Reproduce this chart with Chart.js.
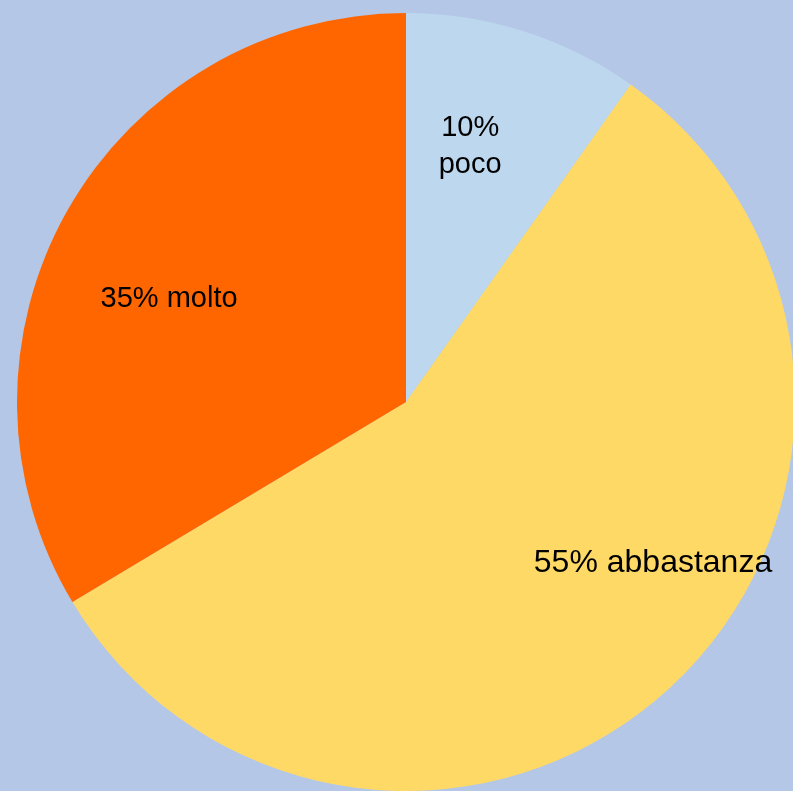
<!DOCTYPE html>
<html>
<head>
<meta charset="utf-8">
<script src="https://cdn.jsdelivr.net/npm/chart.js@4"></script>
<style>
  html, body { margin: 0; padding: 0; overflow: hidden; background: #b4c7e7; width: 793px; height: 791px; }
  #wrap { position: absolute; left: 17px; top: 13px; width: 778px; height: 778px; }
</style>
</head>
<body>
<div id="wrap"><canvas id="pie" width="778" height="778"></canvas></div>
<script>
// Slices go clockwise from 12 o'clock
const categories = ["poco", "abbastanza", "molto"];
const shares = [9.8, 56.6, 33.6];
const percentLabels = ["10%", "55%", "35%"];
const sliceColors = ["#bdd7ee", "#ffd966", "#ff6600"];

// Where each label sits, as a fraction of the radius from the centre (x, baseline y)
const labelSpots = [
  { dx: 0.165, dy: -0.684, size: 29, stacked: true },
  { dx: 0.635, dy: 0.437, size: 32, stacked: false },
  { dx: -0.609, dy: -0.244, size: 29, stacked: false }
];

const sliceLabels = {
  id: "sliceLabels",
  afterDatasetsDraw(chart) {
    const ctx = chart.ctx;
    const arcs = chart.getDatasetMeta(0).data;
    ctx.save();
    ctx.fillStyle = "#000";
    ctx.textAlign = "center";
    ctx.textBaseline = "alphabetic";
    arcs.forEach((arc, i) => {
      const spot = labelSpots[i];
      const r = arc.outerRadius;
      const x = arc.x + spot.dx * r;
      const y = arc.y + spot.dy * r;
      ctx.font = `${spot.size}px "Liberation Sans", Arial, sans-serif`;
      if (spot.stacked) {
        ctx.fillText(percentLabels[i], x, y);
        ctx.fillText(categories[i], x, y + 37);
      } else {
        ctx.fillText(`${percentLabels[i]} ${categories[i]}`, x, y);
      }
    });
    ctx.restore();
  }
};

new Chart(document.getElementById("pie").getContext("2d"), {
  type: "pie",
  data: {
    labels: categories,
    datasets: [{
      data: shares,
      backgroundColor: sliceColors,
      borderWidth: 0,
      hoverOffset: 0
    }]
  },
  options: {
    responsive: false,
    animation: false,
    layout: { padding: 0 },
    plugins: {
      legend: { display: false },
      tooltip: { enabled: false }
    }
  },
  plugins: [sliceLabels]
});
</script>
</body>
</html>
